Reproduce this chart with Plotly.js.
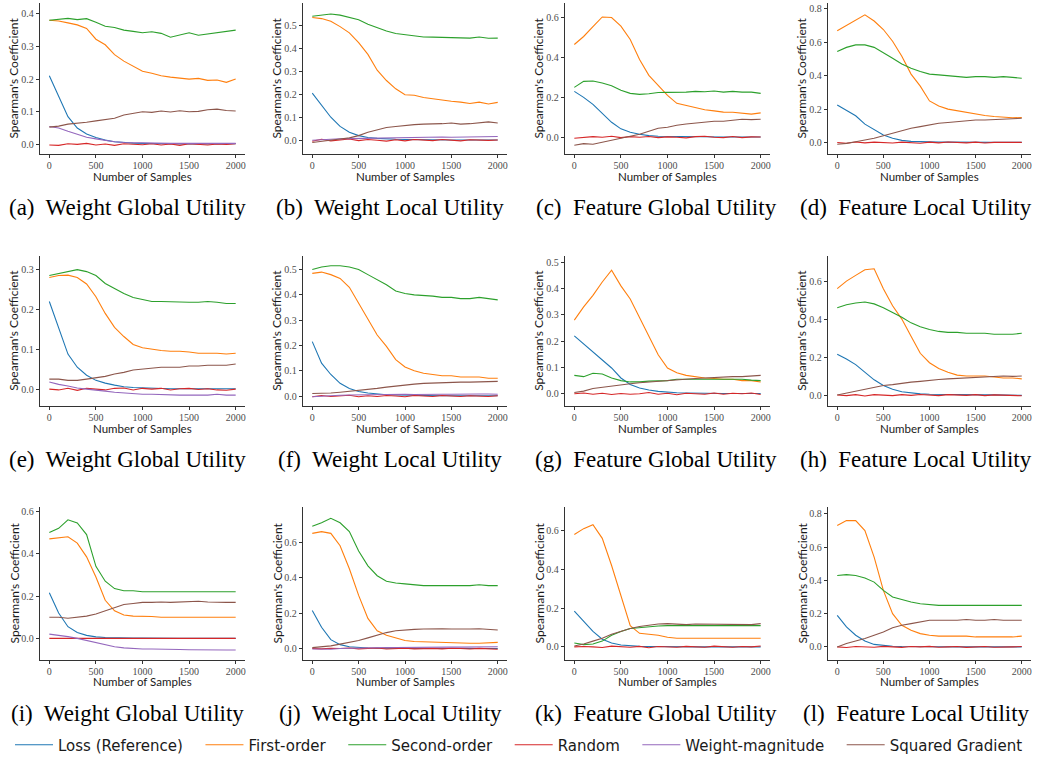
<!DOCTYPE html>
<html>
<head>
<meta charset="utf-8">
<script src="https://cdn.plot.ly/plotly-3.0.1.min.js"></script>
<style>html,body{margin:0;padding:0;background:#fff;}#chart{width:1038px;height:762px;}</style>
</head>
<body>
<div id="chart"></div>
<script>
// ---- sample positions ----
const xs = [0,100,200,300,400,500,600,700,800,900,1000,1100,1200,1300,1400,1500,1600,1700,1800,1900,2000];
const seriesNames = ["Loss (Reference)","First-order","Second-order","Random","Weight-magnitude","Squared Gradient"];
const xTickVals = [0,500,1000,1500,2000];

// ---- (a) Weight Global Utility ----
const aLoss   = [0.21,0.15,0.085,0.05,0.032,0.021,0.013,0.008,0.005,0.004,0.003,0.002,0.002,0.002,0.001,0.001,0.002,0.001,0.001,0.002,0.002];
const aFirst  = [0.38,0.378,0.372,0.366,0.355,0.322,0.305,0.275,0.255,0.24,0.224,0.218,0.21,0.206,0.204,0.2,0.202,0.196,0.197,0.19,0.2];
const aSecond = [0.38,0.384,0.386,0.382,0.385,0.374,0.362,0.358,0.35,0.346,0.342,0.345,0.34,0.328,0.336,0.342,0.334,0.338,0.342,0.344,0.35];
const aRandom = [-0.002,-0.003,0.002,0.0,0.003,-0.002,0.001,-0.003,0.002,0.0,-0.001,0.002,-0.002,0.001,-0.003,0.002,0.0,-0.002,0.001,0.0,0.002];
const aWeight = [0.055,0.05,0.04,0.03,0.022,0.017,0.012,0.008,0.006,0.005,0.004,0.004,0.003,0.003,0.003,0.003,0.002,0.003,0.003,0.002,0.003];
const aSq     = [0.053,0.056,0.062,0.064,0.068,0.072,0.075,0.08,0.09,0.094,0.1,0.098,0.102,0.099,0.103,0.1,0.101,0.106,0.108,0.104,0.102];

// ---- (b) Weight Local Utility ----
const bLoss   = [0.205,0.15,0.1,0.06,0.035,0.02,0.012,0.008,0.005,0.004,0.003,0.002,0.002,0.001,0.001,0.001,0.001,0.001,0.001,0.001,0.001];
const bFirst  = [0.535,0.53,0.518,0.495,0.468,0.425,0.374,0.305,0.26,0.224,0.198,0.196,0.186,0.18,0.176,0.17,0.166,0.16,0.166,0.158,0.165];
const bSecond = [0.54,0.545,0.55,0.545,0.535,0.525,0.505,0.49,0.476,0.465,0.46,0.455,0.45,0.449,0.448,0.446,0.444,0.445,0.45,0.444,0.445];
const bRandom = [-0.005,0.004,-0.003,0.002,0.005,-0.002,0.003,0.0,-0.004,0.002,-0.003,0.003,0.0,-0.002,0.003,0.001,-0.003,0.002,0.0,-0.001,0.001];
const bWeight = [0.0,0.003,0.005,0.006,0.007,0.008,0.008,0.01,0.01,0.01,0.01,0.012,0.013,0.013,0.014,0.013,0.014,0.015,0.015,0.015,0.016];
const bSq     = [-0.01,-0.006,0.0,0.005,0.01,0.02,0.035,0.045,0.055,0.06,0.065,0.068,0.07,0.07,0.072,0.075,0.07,0.072,0.075,0.08,0.075];

// ---- (c) Feature Global Utility ----
const cLoss   = [0.23,0.2,0.165,0.12,0.075,0.042,0.025,0.015,0.008,0.005,0.004,0.003,0.002,0.002,0.002,0.001,0.001,0.001,0.001,0.001,0.001];
const cFirst  = [0.465,0.505,0.555,0.603,0.6,0.557,0.49,0.39,0.31,0.26,0.21,0.17,0.16,0.148,0.138,0.132,0.126,0.125,0.12,0.116,0.122];
const cSecond = [0.25,0.28,0.282,0.272,0.258,0.235,0.22,0.215,0.218,0.224,0.225,0.224,0.226,0.23,0.228,0.232,0.226,0.23,0.226,0.226,0.22];
const cRandom = [-0.005,-0.002,0.003,0.0,0.005,-0.002,0.003,0.0,0.004,-0.002,0.002,0.0,-0.003,0.003,0.005,0.0,-0.002,0.004,-0.002,0.002,0.001];
const cSq     = [-0.04,-0.032,-0.035,-0.025,-0.015,-0.005,0.005,0.015,0.03,0.045,0.05,0.06,0.066,0.07,0.075,0.08,0.08,0.085,0.09,0.088,0.09];

// ---- (d) Feature Local Utility ----
const dLoss   = [0.225,0.195,0.16,0.11,0.075,0.045,0.025,0.013,0.007,0.004,0.003,0.002,0.002,0.001,0.001,0.001,0.001,0.001,0.001,0.001,0.001];
const dFirst  = [0.67,0.7,0.73,0.765,0.728,0.677,0.607,0.517,0.41,0.338,0.249,0.219,0.2,0.19,0.18,0.17,0.162,0.156,0.15,0.148,0.15];
const dSecond = [0.545,0.57,0.585,0.585,0.57,0.54,0.505,0.47,0.445,0.425,0.41,0.405,0.4,0.395,0.39,0.395,0.395,0.39,0.395,0.39,0.385];
const dRandom = [0.0,-0.004,0.003,-0.002,0.002,0.0,-0.003,0.002,0.0,-0.004,0.002,-0.002,0.003,0.0,-0.002,0.002,-0.003,0.001,0.0,-0.002,0.001];
const dSq     = [-0.01,-0.005,0.005,0.015,0.025,0.04,0.055,0.07,0.085,0.095,0.105,0.115,0.12,0.125,0.13,0.135,0.135,0.137,0.14,0.14,0.145];

// ---- (e) Weight Global Utility ----
const eLoss   = [0.22,0.152,0.088,0.055,0.035,0.022,0.015,0.01,0.006,0.004,0.003,0.002,0.002,0.001,0.001,0.001,0.001,0.001,0.001,0.001,0.001];
const eFirst  = [0.28,0.285,0.286,0.28,0.264,0.232,0.19,0.155,0.132,0.112,0.104,0.1,0.097,0.095,0.095,0.093,0.09,0.09,0.09,0.088,0.09];
const eSecond = [0.285,0.29,0.295,0.3,0.295,0.285,0.265,0.252,0.24,0.23,0.225,0.22,0.22,0.219,0.218,0.218,0.218,0.22,0.218,0.215,0.215];
const eRandom = [0.0,-0.002,0.002,-0.003,0.002,0.0,-0.002,0.002,0.003,-0.002,0.002,0.0,0.002,-0.002,0.001,0.002,-0.001,0.001,-0.002,-0.003,0.0];
const eWeight = [0.018,0.012,0.008,0.003,0.0,-0.002,-0.005,-0.008,-0.01,-0.012,-0.013,-0.013,-0.014,-0.014,-0.015,-0.015,-0.015,-0.015,-0.013,-0.015,-0.015];
const eSq     = [0.025,0.025,0.022,0.022,0.025,0.028,0.032,0.038,0.042,0.048,0.05,0.053,0.055,0.055,0.055,0.058,0.058,0.06,0.06,0.06,0.063];

// ---- (f) Weight Local Utility ----
const fLoss   = [0.215,0.13,0.085,0.05,0.03,0.018,0.012,0.008,0.005,0.004,0.003,0.002,0.002,0.001,0.001,0.001,0.001,0.001,0.001,0.001,0.001];
const fFirst  = [0.485,0.49,0.48,0.465,0.43,0.365,0.3,0.241,0.196,0.144,0.115,0.1,0.09,0.085,0.08,0.08,0.075,0.075,0.075,0.07,0.07];
const fSecond = [0.5,0.51,0.515,0.515,0.51,0.5,0.48,0.46,0.44,0.415,0.405,0.4,0.398,0.395,0.39,0.39,0.385,0.385,0.39,0.385,0.38];
const fRandom = [-0.003,0.002,-0.002,0.0,0.003,-0.003,0.001,-0.002,0.002,0.0,-0.003,0.002,0.0,-0.002,0.002,0.0,-0.002,0.001,0.0,-0.002,0.001];
const fWeight = [-0.003,0.0,0.002,0.003,0.004,0.005,0.005,0.006,0.006,0.006,0.007,0.006,0.007,0.008,0.007,0.007,0.008,0.007,0.008,0.008,0.007];
const fSq     = [0.01,0.01,0.012,0.015,0.018,0.022,0.025,0.03,0.035,0.04,0.045,0.047,0.05,0.052,0.053,0.055,0.055,0.055,0.055,0.057,0.058];

// ---- (g) Feature Global Utility ----
const gLoss   = [0.22,0.19,0.16,0.13,0.098,0.06,0.035,0.022,0.014,0.009,0.006,0.004,0.003,0.002,0.002,0.001,0.001,0.001,0.001,0.001,0.001];
const gFirst  = [0.28,0.33,0.374,0.425,0.47,0.41,0.36,0.29,0.22,0.148,0.098,0.08,0.07,0.065,0.06,0.058,0.055,0.055,0.05,0.05,0.045];
const gSecond = [0.07,0.065,0.078,0.075,0.06,0.05,0.045,0.045,0.048,0.05,0.05,0.055,0.055,0.055,0.055,0.055,0.055,0.055,0.055,0.052,0.05];
const gRandom = [0.0,0.003,-0.002,0.002,-0.003,0.001,-0.002,0.0,0.005,-0.002,0.002,-0.004,0.002,0.0,-0.002,0.003,-0.002,0.002,0.0,0.003,-0.003];
const gSq     = [0.005,0.01,0.02,0.025,0.03,0.035,0.038,0.042,0.045,0.048,0.05,0.052,0.055,0.058,0.06,0.062,0.063,0.065,0.065,0.068,0.07];

// ---- (h) Feature Local Utility ----
const hLoss   = [0.215,0.19,0.16,0.12,0.08,0.05,0.03,0.017,0.01,0.006,0.004,0.003,0.002,0.002,0.001,0.001,0.001,0.001,0.001,0.001,-0.002];
const hFirst  = [0.56,0.6,0.63,0.66,0.665,0.56,0.47,0.4,0.31,0.22,0.17,0.14,0.12,0.105,0.1,0.1,0.1,0.095,0.09,0.09,0.085];
const hSecond = [0.46,0.475,0.485,0.49,0.48,0.46,0.435,0.41,0.38,0.36,0.345,0.335,0.33,0.33,0.325,0.325,0.325,0.32,0.32,0.32,0.325];
const hRandom = [0.0,-0.003,0.002,-0.005,0.002,0.0,-0.003,0.002,-0.002,0.003,0.0,-0.003,0.002,0.0,-0.002,0.002,-0.003,0.001,0.0,-0.002,-0.004];
const hSq     = [0.0,0.01,0.02,0.03,0.04,0.05,0.055,0.062,0.068,0.072,0.078,0.082,0.085,0.088,0.09,0.092,0.095,0.097,0.1,0.098,0.1];

// ---- (i) Weight Global Utility ----
const iLoss   = [0.215,0.12,0.055,0.028,0.014,0.007,0.004,0.002,0.001,0.001,0.001,0.0,0.0,0.0,0.0,0.0,0.0,0.0,0.0,0.0,0.0];
const iFirst  = [0.47,0.475,0.48,0.45,0.385,0.29,0.18,0.13,0.11,0.105,0.105,0.103,0.1,0.1,0.102,0.102,0.1,0.1,0.1,0.1,0.1];
const iSecond = [0.5,0.52,0.56,0.545,0.49,0.34,0.27,0.235,0.225,0.225,0.22,0.22,0.22,0.22,0.22,0.222,0.22,0.22,0.22,0.222,0.22];
const iRandom = [0.0,0.0,0.002,-0.001,0.001,0.0,0.002,-0.001,0.001,0.0,0.001,-0.001,0.001,0.0,0.001,0.002,0.0,0.001,-0.001,0.001,0.0];
const iWeight = [0.02,0.015,0.008,0.0,-0.01,-0.02,-0.03,-0.04,-0.045,-0.048,-0.05,-0.05,-0.052,-0.053,-0.053,-0.054,-0.055,-0.055,-0.055,-0.055,-0.055];
const iSq     = [0.1,0.1,0.095,0.1,0.105,0.115,0.13,0.145,0.16,0.165,0.17,0.17,0.172,0.17,0.172,0.175,0.175,0.172,0.17,0.17,0.17];

// ---- (j) Weight Local Utility ----
const jLoss   = [0.215,0.12,0.05,0.022,0.01,0.005,0.003,0.002,0.001,0.001,0.001,0.0,0.0,0.0,0.0,0.0,0.0,0.0,0.0,0.0,0.0];
const jFirst  = [0.65,0.66,0.65,0.58,0.45,0.3,0.17,0.1,0.075,0.06,0.045,0.04,0.038,0.035,0.033,0.032,0.032,0.03,0.03,0.032,0.035];
const jSecond = [0.69,0.71,0.735,0.71,0.66,0.55,0.467,0.411,0.38,0.37,0.365,0.36,0.355,0.355,0.355,0.355,0.355,0.355,0.36,0.355,0.355];
const jRandom = [0.0,-0.002,0.002,0.0,0.003,-0.002,0.001,0.003,-0.003,0.0,0.002,-0.002,0.001,0.0,-0.002,0.002,0.0,-0.003,0.001,-0.002,-0.004];
const jWeight = [-0.003,-0.005,-0.004,0.0,0.002,0.003,0.004,0.005,0.006,0.006,0.007,0.007,0.008,0.008,0.008,0.008,0.008,0.009,0.009,0.01,0.01];
const jSq     = [0.005,0.01,0.015,0.025,0.035,0.045,0.06,0.075,0.09,0.1,0.105,0.108,0.11,0.112,0.112,0.11,0.108,0.11,0.112,0.11,0.105];

// ---- (k) Feature Global Utility ----
const kLoss   = [0.185,0.13,0.08,0.04,0.02,0.01,0.005,0.003,0.002,0.001,0.001,0.0,0.0,0.0,0.0,0.0,0.0,0.0,0.0,0.0,0.0];
const kFirst  = [0.58,0.61,0.63,0.56,0.42,0.26,0.11,0.07,0.065,0.06,0.05,0.045,0.045,0.045,0.045,0.045,0.045,0.045,0.045,0.042,0.045];
const kSecond = [0.02,0.012,0.015,0.03,0.06,0.08,0.095,0.1,0.105,0.108,0.11,0.11,0.112,0.112,0.112,0.112,0.112,0.112,0.113,0.113,0.11];
const kRandom = [0.0,0.002,0.0,-0.003,0.004,0.0,-0.002,0.003,-0.004,0.002,0.0,-0.002,0.003,0.0,-0.002,0.004,0.0,-0.002,0.002,0.0,0.005];
const kSq     = [0.005,0.015,0.03,0.045,0.065,0.08,0.095,0.105,0.112,0.118,0.12,0.118,0.115,0.118,0.118,0.115,0.118,0.115,0.118,0.115,0.12];

// ---- (l) Feature Local Utility ----
const lLoss   = [0.19,0.12,0.07,0.035,0.015,0.008,0.004,0.002,0.001,0.001,0.0,0.0,0.0,0.0,0.0,0.0,0.0,0.0,0.0,0.0,0.0];
const lFirst  = [0.73,0.76,0.76,0.7,0.54,0.34,0.2,0.13,0.1,0.08,0.07,0.065,0.065,0.065,0.065,0.06,0.06,0.06,0.06,0.06,0.065];
const lSecond = [0.43,0.435,0.43,0.415,0.39,0.34,0.3,0.285,0.27,0.26,0.255,0.25,0.25,0.25,0.25,0.25,0.25,0.25,0.25,0.25,0.25];
const lRandom = [0.0,-0.004,0.002,0.0,-0.002,0.003,0.0,-0.003,0.002,0.0,0.003,-0.002,0.0,0.002,-0.003,0.0,0.002,-0.002,0.001,0.0,0.002];
const lSq     = [0.0,0.02,0.035,0.05,0.07,0.09,0.115,0.13,0.14,0.15,0.16,0.16,0.16,0.16,0.165,0.16,0.16,0.165,0.16,0.16,0.16];

// ---- panel captions ----
const captions = ["(a)\u00a0 Weight Global Utility","(b)\u00a0 Weight Local Utility","(c)\u00a0 Feature Global Utility","(d)\u00a0 Feature Local Utility",
                  "(e)\u00a0 Weight Global Utility","(f)\u00a0 Weight Local Utility","(g)\u00a0 Feature Global Utility","(h)\u00a0 Feature Local Utility",
                  "(i)\u00a0 Weight Global Utility","(j)\u00a0 Weight Local Utility","(k)\u00a0 Feature Global Utility","(l)\u00a0 Feature Local Utility"];

// ---- styling / layout (not data) ----
const colors = ["#1f77b4","#ff7f0e","#2ca02c","#d62728","#9467bd","#8c564b"];
const panelSeries = [
  [aLoss,aFirst,aSecond,aRandom,aWeight,aSq],
  [bLoss,bFirst,bSecond,bRandom,bWeight,bSq],
  [cLoss,cFirst,cSecond,cRandom,null,cSq],
  [dLoss,dFirst,dSecond,dRandom,null,dSq],
  [eLoss,eFirst,eSecond,eRandom,eWeight,eSq],
  [fLoss,fFirst,fSecond,fRandom,fWeight,fSq],
  [gLoss,gFirst,gSecond,gRandom,null,gSq],
  [hLoss,hFirst,hSecond,hRandom,null,hSq],
  [iLoss,iFirst,iSecond,iRandom,iWeight,iSq],
  [jLoss,jFirst,jSecond,jRandom,jWeight,jSq],
  [kLoss,kFirst,kSecond,kRandom,null,kSq],
  [lLoss,lFirst,lSecond,lRandom,null,lSq]
];
const yRanges = [[-0.03,0.433],[-0.061,0.598],[-0.085,0.673],[-0.07,0.836],
                 [-0.042,0.335],[-0.039,0.555],[-0.046,0.525],[-0.057,0.734],
                 [-0.1,0.619],[-0.062,0.797],[-0.065,0.72],[-0.076,0.84]];
const yDticks = [0.1,0.1,0.2,0.2, 0.1,0.1,0.1,0.2, 0.2,0.2,0.2,0.2];

const W = 1038, H = 762;
const colX = [[40,245],[303,507],[565,770],[828,1031]];
const rowY = [[3,155],[257,408],[510,663]];
const capX = [127,390,656,916];
const legendPad = "\u00a0\u00a0\u2009";

const tickFont = {family:"Liberation Serif, serif", size:10, color:"#4d4d4d"};
const xLabFont = {family:"Lato, sans-serif", size:11.5, color:"#1a1a1a"};
const yLabFont = {family:"Lato, sans-serif", size:12, color:"#1a1a1a"};

const traces = [];
const layout = {
  width:W, height:H, margin:{l:0,r:0,t:0,b:0},
  paper_bgcolor:"#fff", plot_bgcolor:"#fff",
  showlegend:true,
  legend:{orientation:"h", x:0.5, xanchor:"center", y:1-749/H, yanchor:"middle",
          font:{family:"DejaVu Sans, sans-serif", size:15, color:"#1a1a1a"}, itemwidth:38},
  annotations:[]
};

for (let p = 0; p < 12; p++) {
  const row = Math.floor(p/4), col = p%4;
  const sfx = p === 0 ? "" : String(p+1);
  const [x0,x1] = colX[col], [y0,y1] = rowY[row];
  layout["xaxis"+sfx] = {
    domain:[x0/W, x1/W], anchor:"y"+sfx, range:[-100,2100],
    tickvals:xTickVals, ticks:"outside", ticklen:3, tickcolor:"#333", tickwidth:1,
    ticklabelstandoff:-1,
    showline:true, linecolor:"#333", linewidth:1.2, showgrid:false, zeroline:false,
    tickfont:tickFont
  };
  layout["yaxis"+sfx] = {
    domain:[1-y1/H, 1-y0/H], anchor:"x"+sfx, range:yRanges[p],
    tick0:0, dtick:yDticks[p], tickformat:".1f", ticks:"outside", ticklen:3, tickcolor:"#333", tickwidth:1,
    showline:true, linecolor:"#333", linewidth:1.2, showgrid:false, zeroline:false,
    tickfont:tickFont
  };
  panelSeries[p].forEach((ys, s) => {
    if (!ys) return;
    traces.push({
      type:"scatter", mode:"lines", x:xs, y:ys, name:seriesNames[s] + (s < 5 ? legendPad : ""),
      xaxis:"x"+sfx, yaxis:"y"+sfx,
      line:{color:colors[s], width:1.1},
      showlegend:p===0, legendgroup:seriesNames[s]
    });
  });
  layout.annotations.push({
    text:"Number of Samples", xref:"paper", yref:"paper",
    x:(x0+x1)/2/W, y:1-(y1+22.5)/H, xanchor:"center", yanchor:"middle",
    showarrow:false, font:xLabFont, borderpad:0
  });
  layout.annotations.push({
    text:"Spearman's Coefficient", xref:"paper", yref:"paper", textangle:-90,
    x:(x0-26)/W, y:1-((y0+y1)/2)/H, xanchor:"center", yanchor:"middle",
    showarrow:false, font:yLabFont, borderpad:0
  });
  layout.annotations.push({
    text:captions[p], xref:"paper", yref:"paper",
    x:capX[col]/W, y:1-(y1+54)/H, xanchor:"center", yanchor:"middle",
    showarrow:false, font:{family:"Liberation Serif, Times New Roman, serif", size:23, color:"#000"}
  });
}

Plotly.newPlot("chart", traces, layout, {staticPlot:true, displayModeBar:false});
</script>
</body>
</html>
